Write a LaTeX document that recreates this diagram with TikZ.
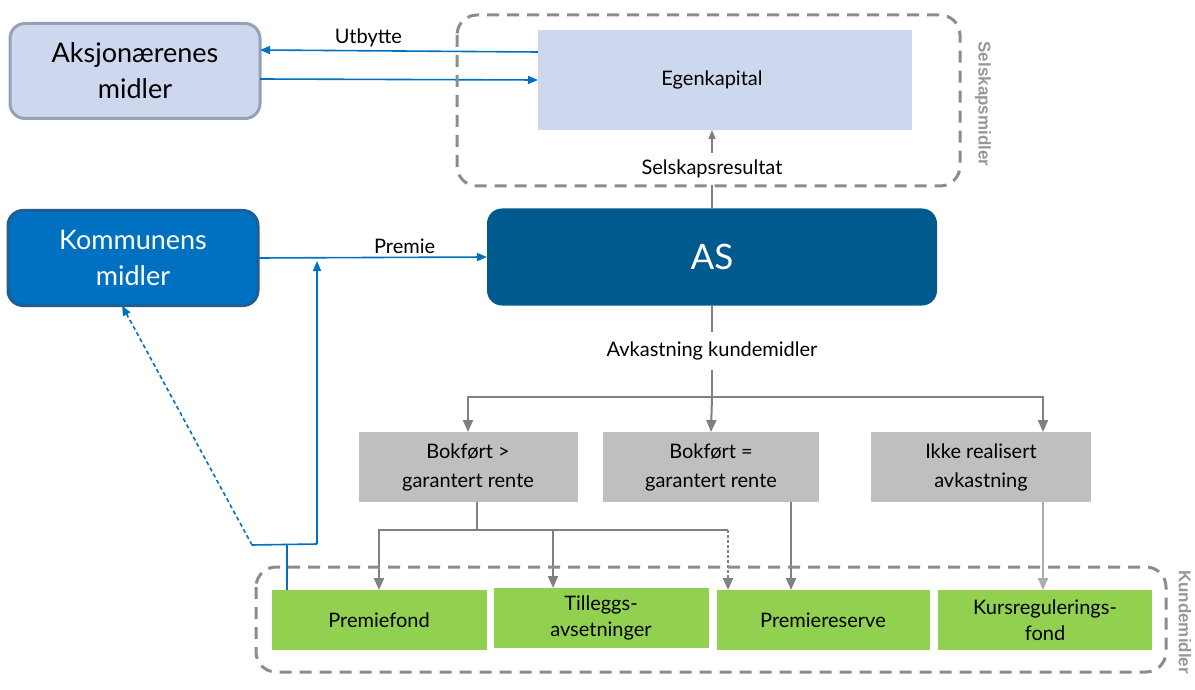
\documentclass[tikz,border=0pt]{standalone}
\usepackage{fontspec}
\setmainfont{Lato}
\newfontfamily\sidefont{Liberation Sans}
\usetikzlibrary{arrows.meta,positioning}
\definecolor{lavender}{RGB}{205,215,238}
\definecolor{lavenderline}{RGB}{148,160,182}
\definecolor{kommblue}{RGB}{0,112,192}
\definecolor{kommline}{RGB}{31,93,148}
\definecolor{asblue}{RGB}{0,90,142}
\definecolor{boxgray}{RGB}{191,191,191}
\definecolor{linegray}{RGB}{128,128,128}
\definecolor{dashgray}{RGB}{140,140,140}
\definecolor{fundgreen}{RGB}{146,208,80}

\begin{document}
\begin{tikzpicture}
          [x=1pt,y=-1pt,
            every node/.style={align=center,inner sep=2pt,outer sep=0pt},
            owner/.style={rectangle,rounded corners=15pt,line width=3pt,minimum width=250pt,minimum height=95pt,font=\fontsize{27}{36}\selectfont},
            flow/.style={rectangle,fill=boxgray,minimum width=219pt,minimum height=70pt,font=\fontsize{20}{29}\selectfont},
            fund/.style={rectangle,fill=fundgreen,minimum width=215pt,minimum height=60pt,font=\fontsize{20}{26}\selectfont},
            word/.style={fill=white,font=\fontsize{20}{22}\selectfont},
            group/.style={draw=dashgray,line width=3pt,dash pattern=on 12pt off 8pt,rounded corners=20pt},
            side/.style={text=dashgray!90,font=\sidefont\bfseries\fontsize{17}{20}\selectfont,rotate=-90},
            grayline/.style={draw=linegray,line width=2pt},
            grayarrow/.style={grayline,-{Triangle[length=12pt,width=10pt]}},
            blueline/.style={draw=kommblue,line width=1.6pt},
            bluearrow/.style={blueline,-{Triangle[length=10pt,width=8pt]}},
          ]
          \useasboundingbox (0,0) rectangle (1195,690);

          % owners and company
          \node[owner,fill=lavender,draw=lavenderline] (aksj) at (135,71) {Aksjonærenes\\midler};
          \node[owner,fill=kommblue,draw=kommline,text=white] (komm) at (133,258) {Kommunens\\midler};
          \node[rectangle,fill=lavender,minimum width=374pt,minimum height=100pt,font=\fontsize{20}{22}\selectfont] (egen) at (725,80) {Egenkapital\hspace*{26pt}};
          \node[rectangle,rounded corners=15pt,fill=asblue,minimum width=450pt,minimum height=97pt,text=white,font=\fontsize{35}{40}\selectfont] (as) at (712,257) {AS};

          % return split
          \node[flow] (over) at (468,467) {Bokført >\\garantert rente};
          \node[flow,minimum width=216pt] (equal) at (711,467) {Bokført =\\garantert rente};
          \node[flow,minimum width=220pt] (unreal) at (981,467) {Ikke realisert\\avkastning};

          % customer funds
          \node[fund] (pfond) at (379,620) {Premiefond};
          \node[fund] (tillegg) at (601,618) {Tilleggs-\\avsetninger};
          \node[fund,minimum width=213pt] (preserve) at (823,620) {Premiereserve};
          \node[fund,minimum width=214pt] (kfond) at (1045,620) {Kursregulerings-\\fond};

          \coordinate (split) at (712,397);
          \coordinate (gsplit) at (477,530);
          \coordinate (gend) at (728,530);
          \coordinate (tap) at (287,545);
          \coordinate (loop) at (252,545);
          \coordinate (back) at (317,544);

          % flows between owners and company
          \draw[bluearrow] ([yshift=28pt]egen.west) -- ([yshift=21pt]aksj.east)
            node[pos=0.61,above=2pt,word,fill=none] (utbytte) {Utbytte};
          \draw[bluearrow] ([yshift=-8pt]aksj.east) -- (egen.west);
          \draw[bluearrow] (komm.east) -- (as.west)
            node[pos=0.64,above=2pt,word,fill=none] (premie) {Premie};
          \draw[grayline,line width=1.5pt,-{Triangle[length=9pt,width=7pt]}] (as.north) -- (as.north |- egen.south)
            node[midway,word,inner ysep=7pt] (result) {Selskapsresultat};

          % return on customer funds
          \draw[grayline] (as.south) -- (split)
            node[midway,word,inner ysep=10pt] (avk) {Avkastning kundemidler};
          \draw[grayarrow] (split) -| (over.north);
          \draw[grayarrow] (split) -- (equal.north);
          \draw[grayarrow] (split) -| ([xshift=62pt]unreal.north);

          \draw[grayline] ([xshift=9pt]over.south) -- (gsplit);
          \draw[grayarrow] (gsplit) -| (pfond.north);
          \draw[grayarrow] (gsplit) -| ([xshift=-48pt]tillegg.north);
          \draw[grayline] (gsplit) -- (gend);
          \draw[grayarrow,dash pattern=on 3pt off 2pt] (gend) -- (gend |- preserve.north);
          \draw[grayarrow] ([xshift=80pt]equal.south) -- ([xshift=80pt]equal.south |- preserve.north);
          \draw[grayarrow,draw=linegray!65] ([xshift=62pt]unreal.south) -- ([xshift=62pt]unreal.south |- kfond.north);

          % back to the municipality
          \draw[blueline] (pfond.north -| tap) -- (tap);
          \draw[blueline] (loop) -- (back);
          \draw[bluearrow,shorten >=3pt] (back) -- (back |- komm.east);
          \draw[bluearrow,dash pattern=on 4pt off 3pt] (loop) -- ([xshift=-11pt]komm.south);

          % groups
          \draw[group] (457,15) rectangle (960,186);
          \draw[group] (256,567) rectangle (1166,672);
          \node[side] (selsk) at (983,104) {Selskapsmidler};
          \node[side] (kunde) at (1185,622) {Kundemidler};
        \end{tikzpicture}
\end{document}
